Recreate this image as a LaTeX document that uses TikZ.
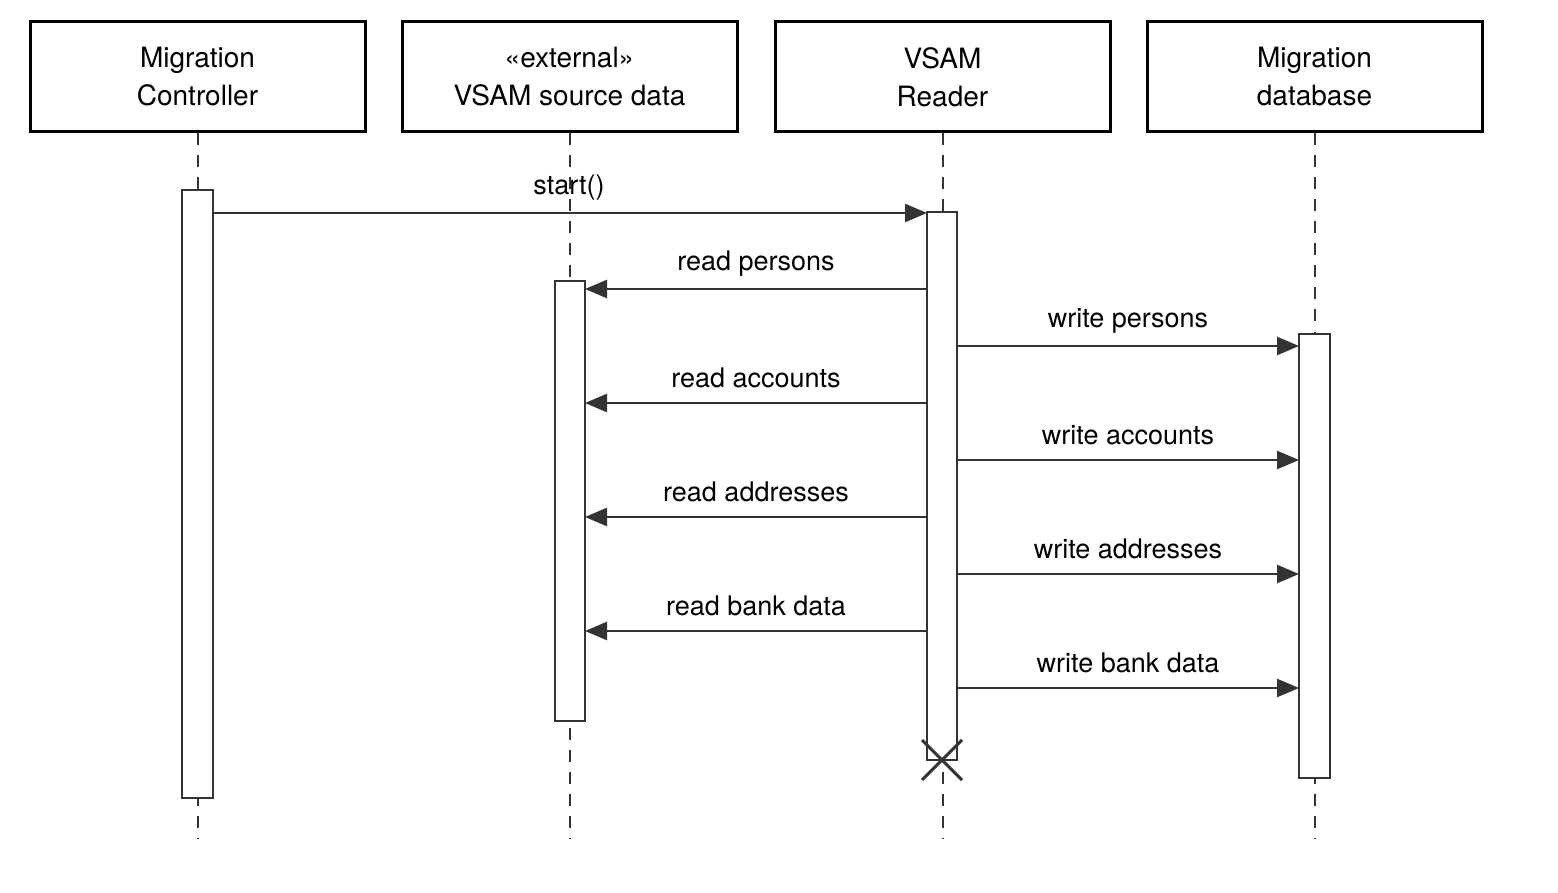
\documentclass[tikz,border=0pt]{standalone}
\usepackage{fontspec}
\setmainfont{TeX Gyre Heros}
\usetikzlibrary{arrows.meta,calc}
\tikzset{
    party/.style = {
        draw, line width=1.5pt, minimum width=167.5pt, minimum height=55pt,
        align=center, font=\fontsize{14}{19}\selectfont,
        },
    lifeline/.style = {
        draw=black!80, line width=1pt, dash pattern=on 6pt off 5pt,
        },
    activation/.style = {
        draw=black!80, fill=white, line width=1.2pt,
        },
    msg/.style = {
        draw=black!80, line width=1.2pt, -{Triangle[length=11pt,width=9pt]},
        },
    msglabel/.style = {
        font=\fontsize{13.5}{16}\selectfont, fill=none, inner sep=1pt,
        },
}
\begin{document}
\begin{tikzpicture}[x=0.5pt,y=-0.5pt]
    \useasboundingbox (0,0) rectangle (1558,893);
    % participants
    \node[party] (ctrl) at (197.5,77) {Migration\\Controller};
    \node[party] (src) at (569.5,77) {«external»\\VSAM source data};
    \node[party] (rdr) at (942.5,77) {VSAM\\Reader};
    \node[party] (db) at (1314.5,77) {Migration\\database};
    % lifelines
    \foreach \n/\x in {ctrl/197.5,src/569.5,rdr/942.5,db/1314.5} {
        \coordinate (\n end) at (\x,838);
        \draw[lifeline] (\n.south) -- (\n end);
    }
    % activations
    \draw[activation] (182,190) rectangle (213,798);
    \draw[activation] (555,281) rectangle (585,721);
    \draw[activation] (927,212) rectangle (957,760);
    \draw[activation] (1299,334) rectangle (1330,778);
    % start
    \coordinate (s0) at (213,213);
    \coordinate (s1) at (927,213);
    \draw[msg] (s0) -- (s1);
    \node[msglabel] (startlbl) at (569,188) {start()};
    % reads and writes
    \foreach \i/\txt [count=\k from 0] in {persons/persons,accounts/accounts,addresses/addresses,bank/bank data} {
        \coordinate (r\i a) at (927,289+114*\k);
        \coordinate (r\i b) at (585,289+114*\k);
        \draw[msg] (r\i a) -- (r\i b);
        \node[msglabel] (r\i lbl) at (756,264+114*\k) {read \txt};
        \coordinate (w\i a) at (957,346+114*\k);
        \coordinate (w\i b) at (1299,346+114*\k);
        \draw[msg] (w\i a) -- (w\i b);
        \node[msglabel] (w\i lbl) at (1128,321+114*\k) {write \txt};
    }
    % destruction
    \coordinate (kill) at (942,760);
    \draw[line width=1.5pt,black!80] ($(kill)+(-20,-20)$) -- ($(kill)+(20,20)$)
        ($(kill)+(-20,20)$) -- ($(kill)+(20,-20)$);
\end{tikzpicture}
\end{document}
